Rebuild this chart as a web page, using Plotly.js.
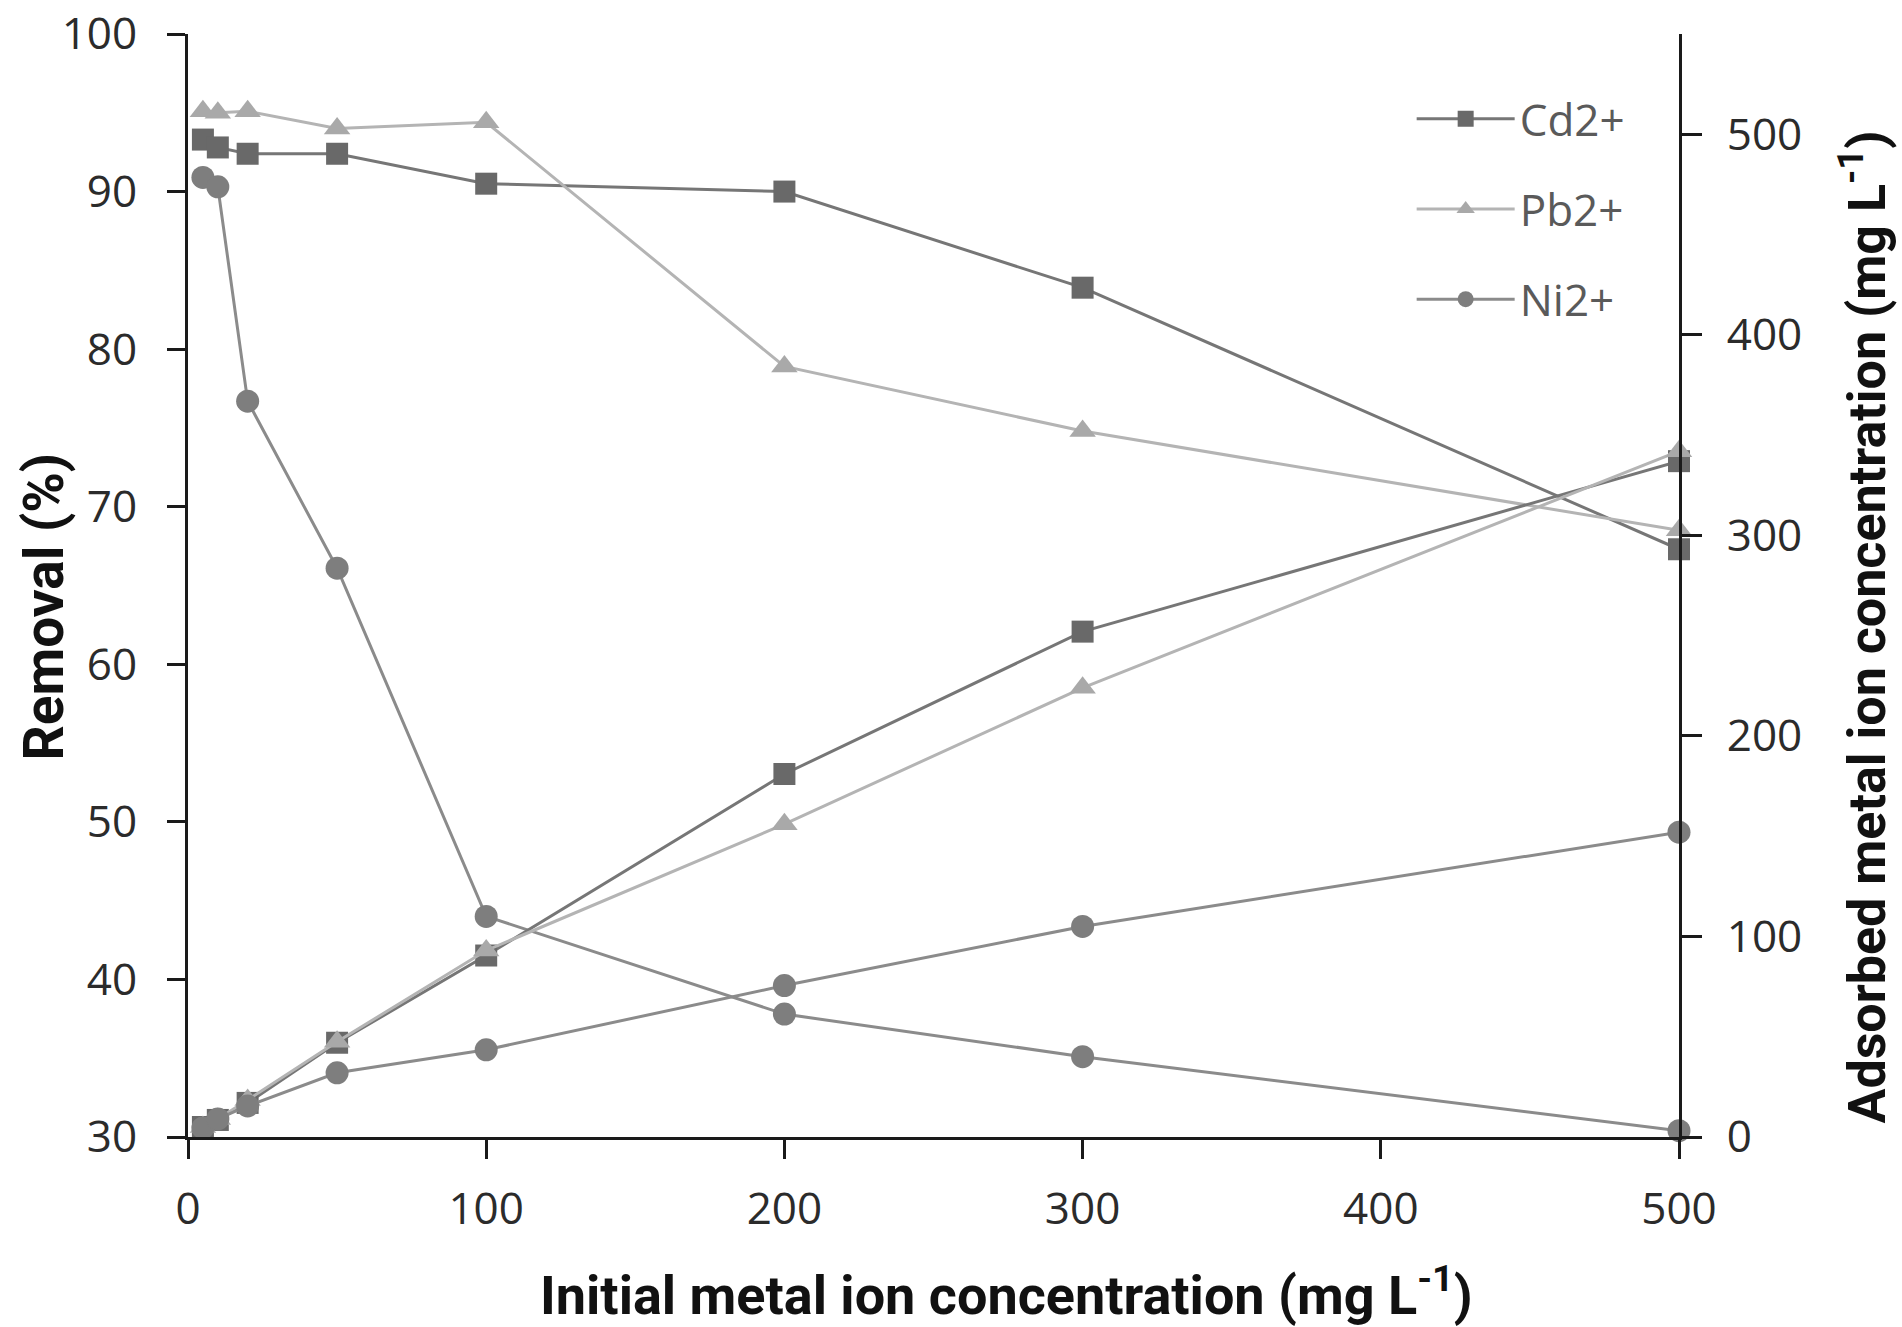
<!DOCTYPE html>
<html>
<head>
<meta charset="utf-8">
<script src="https://cdn.plot.ly/plotly-3.0.1.min.js"></script>
<style>
  html, body { margin: 0; padding: 0; background: #ffffff; }
  #chart { width: 1902px; height: 1327px; }
</style>
</head>
<body>
<div id="chart"></div>
<script>
// Initial metal ion concentration (mg L-1)
const conc = [5, 10, 20, 50, 100, 200, 300, 500];

// Removal (%) — left axis
const cdRemoval = [93.3, 92.8, 92.4, 92.4, 90.5, 90.0, 83.9, 67.3];
const pbRemoval = [95.1, 95.0, 95.1, 94.0, 94.4, 78.9, 74.8, 68.5];
const niRemoval = [90.9, 90.3, 76.7, 66.1, 44.0, 37.8, 35.1, 30.4];

// Adsorbed metal ion concentration (mg L-1) — right axis
const cdAdsorbed = [5, 8.5, 17, 47, 90.5, 181, 252, 337];
const pbAdsorbed = [5, 9, 18.5, 47.5, 93, 156, 224, 342];
const niAdsorbed = [4.5, 9, 15.5, 32, 43.5, 75.5, 105, 152];

// Axis ticks
const xTicks = [0, 100, 200, 300, 400, 500];
const yTicks = [30, 40, 50, 60, 70, 80, 90, 100];
const y2Ticks = [0, 100, 200, 300, 400, 500];

const metals = [
  { name: 'Cd2+', removal: cdRemoval, adsorbed: cdAdsorbed,
    symbol: 'square', size: 22, marker: '#696969', line: '#767676' },
  { name: 'Pb2+', removal: pbRemoval, adsorbed: pbAdsorbed,
    symbol: 'triangle-up', size: 23, marker: '#a9a9a9', line: '#b4b4b4' },
  { name: 'Ni2+', removal: niRemoval, adsorbed: niAdsorbed,
    symbol: 'circle', size: 23, marker: '#7e7e7e', line: '#8b8b8b' }
];

const traces = [];
metals.forEach(function (m) {
  const common = {
    x: conc,
    mode: 'lines+markers',
    legendgroup: m.name,
    cliponaxis: false,
    line: { color: m.line, width: 3 },
    marker: { symbol: m.symbol, size: m.size, color: m.marker, line: { width: 0 } }
  };
  traces.push(Object.assign({}, common, {
    name: m.name, y: m.removal, yaxis: 'y', showlegend: true
  }));
  traces.push(Object.assign({}, common, {
    name: m.name, y: m.adsorbed, yaxis: 'y2', showlegend: false
  }));
});

const tickFont = { family: 'Open Sans, Noto Sans, sans-serif', size: 44, color: '#2b2b2b' };
const titleFamily = 'Roboto, Liberation Sans, sans-serif';

const axisBase = {
  showline: true, linecolor: '#1a1a1a', linewidth: 3,
  ticks: 'outside', tickwidth: 3, tickcolor: '#1a1a1a',
  showgrid: false, zeroline: false, tickfont: tickFont
};

const layout = {
  width: 1902, height: 1327,
  paper_bgcolor: '#ffffff', plot_bgcolor: '#ffffff',
  margin: { l: 188, r: 223, t: 34, b: 190 },
  showlegend: true,
  legend: {
    x: 0.8207, y: 0.955, xanchor: 'left', yanchor: 'top',
    bgcolor: 'rgba(0,0,0,0)',
    font: { family: 'Open Sans, Noto Sans, sans-serif', size: 44, color: '#5a5a5a' },
    itemwidth: 98, tracegroupgap: 30
  },
  xaxis: Object.assign({}, axisBase, {
    range: [0, 500], tickvals: xTicks, ticklen: 19, ticklabelstandoff: 12
  }),
  yaxis: Object.assign({}, axisBase, {
    range: [30, 100], tickvals: yTicks, ticklen: 18, ticklabelstandoff: 21
  }),
  yaxis2: Object.assign({}, axisBase, {
    range: [0, 550], tickvals: y2Ticks, ticklen: 20, ticklabelstandoff: 16,
    overlaying: 'y', side: 'right'
  }),
  annotations: [
    { text: 'Initial metal ion concentration (mg L<sup>-1</sup>)',
      xref: 'paper', yref: 'paper', x: 0.549, y: -0.14, xanchor: 'center', yanchor: 'middle',
      showarrow: false,
      font: { family: titleFamily, size: 54, color: '#111111', weight: 700 } },
    { text: 'Removal (%)',
      xref: 'paper', yref: 'paper', x: -0.0966, y: 0.481, xanchor: 'center', yanchor: 'middle',
      textangle: -90, showarrow: false,
      font: { family: titleFamily, size: 55, color: '#111111', weight: 700 } },
    { text: 'Adsorbed metal ion concentration (mg L<sup>-1</sup>)',
      xref: 'paper', yref: 'paper', x: 1.1235, y: 0.462, xanchor: 'center', yanchor: 'middle',
      textangle: -90, showarrow: false,
      font: { family: titleFamily, size: 52, color: '#111111', weight: 700 } }
  ]
};

Plotly.newPlot('chart', traces, layout, { displayModeBar: false, staticPlot: true });
</script>
</body>
</html>
